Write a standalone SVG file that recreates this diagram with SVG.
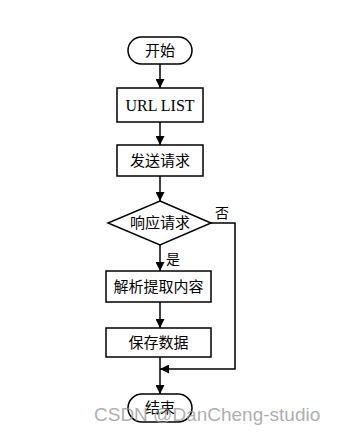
<svg xmlns="http://www.w3.org/2000/svg" width="339" height="437" viewBox="0 0 339 437">
<style>
.s{fill:#fff;stroke:#000;stroke-width:1.5}
.t{font-family:"Liberation Serif","Noto Sans CJK SC",serif;font-size:15px;fill:#000;text-anchor:middle;dominant-baseline:central}
.c{fill:none;stroke:#000;stroke-width:1.5}
.l{font-family:"Liberation Serif","Noto Sans CJK SC",serif;font-size:14px;fill:#000}
</style>
<defs>
<marker id="a" viewBox="0 0 10 10" refX="10" refY="5" markerWidth="6" markerHeight="6" orient="auto" markerUnits="strokeWidth">
<path d="M0,0 L10,5 L0,10 z" fill="#000"/>
</marker>
</defs>
<rect width="339" height="437" fill="#fff"/>
<g id="connectors">
<line class="c" x1="160" y1="64" x2="160" y2="88" marker-end="url(#a)"/>
<line class="c" x1="160" y1="122" x2="160" y2="145" marker-end="url(#a)"/>
<line class="c" x1="160" y1="176" x2="160" y2="201" marker-end="url(#a)"/>
<line class="c" x1="160" y1="245" x2="160" y2="271" marker-end="url(#a)"/>
<line class="c" x1="160" y1="302" x2="160" y2="328" marker-end="url(#a)"/>
<line class="c" x1="160" y1="357" x2="160" y2="394" marker-end="url(#a)"/>
<polyline class="c" points="211,223 235,223 235,369 160,369" marker-end="url(#a)"/>
<text class="l" x="215" y="218">否</text>
<text class="l" x="166" y="264">是</text>
</g>
<g id="start"><rect class="s" x="128" y="37" width="64" height="27" rx="13.5"/><text class="t" x="160" y="50.5">开始</text></g>
<g id="urllist"><rect class="s" x="117" y="88" width="86" height="34"/><text class="t" x="160" y="105" style="font-size:16px">URL LIST</text></g>
<g id="send"><rect class="s" x="117" y="145" width="86" height="31"/><text class="t" x="160" y="160.5">发送请求</text></g>
<g id="resp"><polygon class="s" points="160,201 211,223 160,245 108,223"/><text class="t" x="160" y="223">响应请求</text></g>
<g id="parse"><rect class="s" x="106" y="271" width="105" height="31"/><text class="t" x="158.5" y="286.5">解析提取内容</text></g>
<g id="save"><rect class="s" x="106" y="328" width="105" height="29"/><text class="t" x="158.5" y="342.5">保存数据</text></g>
<g id="end"><rect class="s" x="128" y="394" width="64" height="28" rx="14"/><text class="t" x="160" y="408">结束</text></g>
<text x="94" y="421" style="font-family:'Liberation Sans',sans-serif;font-size:19px;fill:#999;fill-opacity:0.8">CSDN @DanCheng-studio</text>
</svg>
